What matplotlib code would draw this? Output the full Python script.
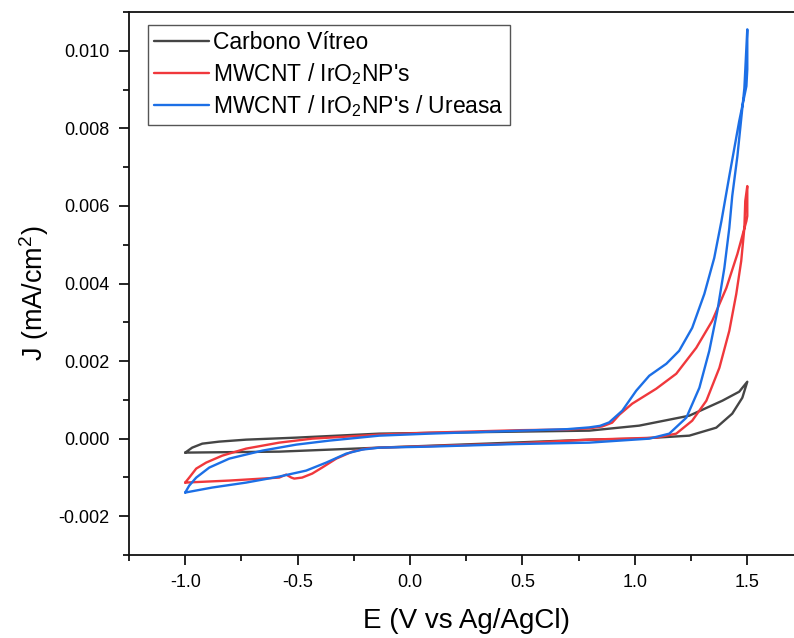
import matplotlib
matplotlib.use("Agg")
import matplotlib.pyplot as plt
from matplotlib.ticker import MultipleLocator, FormatStrFormatter

plt.rcParams['font.family'] = ['Liberation Sans', 'DejaVu Sans']
plt.rcParams['mathtext.fontset'] = 'custom'
plt.rcParams['mathtext.rm'] = 'Liberation Sans'
plt.rcParams['mathtext.it'] = 'Liberation Sans'
plt.rcParams['mathtext.default'] = 'regular'

labels = ["Carbono Vítreo", "MWCNT / IrO$_2$NP's", "MWCNT / IrO$_2$NP's / Ureasa"]
colors = ["#454545", "#f0383c", "#1c6fe6"]

# Carbono Vítreo: forward (positive-going) then reverse
gc_E_fwd = [-1.0, -0.969, -0.924, -0.849, -0.729, -0.506, -0.137, 0.308, 0.797, 1.019, 1.242,
            1.389, 1.464, 1.5]
gc_J_fwd = [-0.00036, -0.000232, -0.000129, -0.000077, -0.000026, 0.000026, 0.000129, 0.000167,
            0.000206, 0.000335, 0.000592, 0.000978, 0.00121, 0.001467]
gc_E_rev = [1.5, 1.478, 1.433, 1.362, 1.242, 1.019, 0.797, 0.455, -0.137, -0.582, -1.0]
gc_J_rev = [0.001467, 0.001055, 0.000644, 0.000283, 0.000077, 0.0, -0.000026, -0.000103,
            -0.000232, -0.000335, -0.00036]

# MWCNT / IrO2NP's
ir_E_fwd = [-1.0, -0.982, -0.951, -0.907, -0.835, -0.729, -0.582, -0.435, -0.284, -0.137, 0.085,
            0.495, 0.70, 0.797, 0.855, 0.899, 0.931, 0.988, 1.095, 1.184, 1.273, 1.344, 1.407,
            1.456, 1.496, 1.5]
ir_J_fwd = [-0.001133, -0.001004, -0.000772, -0.000618, -0.000438, -0.000257, -0.000103, 0.0,
            0.000051, 0.000103, 0.000154, 0.000219, 0.000235, 0.000265, 0.000315, 0.000412,
            0.000618, 0.000901, 0.001287, 0.001673, 0.002342, 0.003037, 0.003887, 0.004762,
            0.005611, 0.00574]
ir_E_rev = [1.5, 1.491, 1.487, 1.473, 1.451, 1.420, 1.376, 1.318, 1.255, 1.184, 1.095, 0.797,
            0.455, 0.085, -0.137, -0.195, -0.257, -0.328, -0.391, -0.435, -0.480, -0.515, -0.528,
            -0.551, -0.582, -0.804, -1.0]
ir_J_rev = [0.006512, 0.006126, 0.005431, 0.004582, 0.003732, 0.00278, 0.001828, 0.000978,
            0.000463, 0.000129, 0.000026, -0.000026, -0.000129, -0.000193, -0.000232, -0.000257,
            -0.000335, -0.000515, -0.000746, -0.000901, -0.001004, -0.00103, -0.001004, -0.000927,
            -0.001004, -0.001081, -0.001133]

# MWCNT / IrO2NP's / Ureasa
ur_E_fwd = [-1.0, -0.982, -0.951, -0.893, -0.804, -0.657, -0.506, -0.359, -0.137, 0.085, 0.495,
            0.70, 0.797, 0.845, 0.886, 0.944, 1.006, 1.064, 1.140, 1.197, 1.255, 1.309, 1.353,
            1.385, 1.420, 1.464, 1.496, 1.5]
ur_J_fwd = [-0.00139, -0.00121, -0.001004, -0.000746, -0.000515, -0.000309, -0.000154, -0.000051,
            0.000077, 0.000129, 0.000206, 0.000245, 0.00029, 0.00033, 0.000420, 0.000721,
            0.001236, 0.001622, 0.001931, 0.002265, 0.002857, 0.003732, 0.004659, 0.005611,
            0.00677, 0.008185, 0.009087, 0.009524]
ur_E_rev = [1.5, 1.487, 1.456, 1.433, 1.420, 1.398, 1.367, 1.331, 1.287, 1.229, 1.153, 1.064,
            0.797, 0.455, 0.085, -0.137, -0.213, -0.284, -0.373, -0.462, -0.582, -0.729, -0.880,
            -1.0]
ur_J_rev = [0.010553, 0.009035, 0.007284, 0.006255, 0.005431, 0.004401, 0.003295, 0.002265,
            0.001313, 0.000541, 0.000129, 0.0, -0.000103, -0.000142, -0.000206, -0.000232,
            -0.000283, -0.000386, -0.000618, -0.000824, -0.000978, -0.001133, -0.001261, -0.00139]

series = [
    (gc_E_fwd + gc_E_rev, gc_J_fwd + gc_J_rev),
    (ir_E_fwd + ir_E_rev, ir_J_fwd + ir_J_rev),
    (ur_E_fwd + ur_E_rev, ur_J_fwd + ur_J_rev),
]

fig = plt.figure(figsize=(7.94, 6.38), dpi=100)
ax = fig.add_axes([129 / 794, 1 - 555 / 638, (803.5 - 129) / 794, (555 - 12) / 638])

for (E, J), lab, c in zip(series, labels, colors):
    ax.plot(E, J, color=c, lw=1.7, label=lab, solid_joinstyle='round', solid_capstyle='round')

ax.set_xlim(-1.25, 1.75)
ax.set_ylim(-0.003, 0.011)
ax.xaxis.set_major_locator(MultipleLocator(0.5))
ax.xaxis.set_minor_locator(MultipleLocator(0.25))
ax.yaxis.set_major_locator(MultipleLocator(0.002))
ax.yaxis.set_minor_locator(MultipleLocator(0.001))
ax.xaxis.set_major_formatter(FormatStrFormatter('%.1f'))
ax.yaxis.set_major_formatter(FormatStrFormatter('%.3f'))

ax.spines['right'].set_visible(False)
for s in ['left', 'bottom', 'top']:
    ax.spines[s].set_linewidth(1.3)
    ax.spines[s].set_color('#111111')
ax.tick_params(which='major', direction='out', length=7, width=1.2, labelsize=13, pad=7,
               top=False, right=False)
ax.tick_params(which='minor', direction='out', length=4, width=1.2, top=False, right=False)

ax.set_xlabel('E (V vs Ag/AgCl)', fontsize=20, labelpad=12)
ax.set_ylabel('J (mA/cm$^2$)', fontsize=19.5, labelpad=8)
ax.yaxis.set_label_coords(-0.115, 0.482)

leg = ax.legend(loc='upper left', bbox_to_anchor=(19 / 674.5, 1 - 13 / 543), fontsize=16.5,
                frameon=True, fancybox=False, edgecolor='#555555', framealpha=1,
                handlelength=2.4, handletextpad=0.2, labelspacing=0.3, borderpad=0.25,
                borderaxespad=0)
leg.get_frame().set_linewidth(1.0)

fig.savefig('out.png', dpi=100)
